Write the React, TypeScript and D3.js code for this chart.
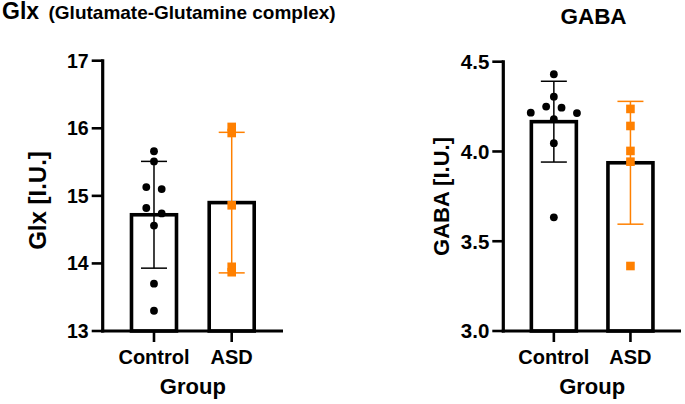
import React from "react";
import * as d3 from "d3";

const groups = ["Control", "ASD"];

const glxControl = [15.66, 15.51, 15.13, 15.1, 14.82, 14.74, 14.56, 13.7, 13.3];
const glxASD = [16.02, 15.93, 14.86, 13.95, 13.87];
const glxMeans = [14.72, 14.9];
const glxSDs = [0.79, 1.04];
const glxTicks = [13, 14, 15, 16, 17];

const gabaControl = [4.43, 4.305, 4.25, 4.244, 4.216, 4.214, 4.18, 4.046, 3.633];
const gabaASD = [4.237, 4.142, 4.003, 3.943, 3.362];
const gabaMeans = [4.166, 3.937];
const gabaSDs = [0.225, 0.342];
const gabaTicks = [3.0, 3.5, 4.0, 4.5];

const FONT = "'Liberation Sans', Arial, Helvetica, sans-serif";
const ORANGE = "#FF8000";

type PanelProps = {
  axisX: number;
  axisEnd: number;
  yTop: number;
  yBottom: number;
  domain: [number, number];
  ticks: number[];
  tickFmt: (v: number) => string;
  values: number[][];
  means: number[];
  sds: number[];
  yLabel: string;
  yLabelX: number;
  yLabelY: number;
  yLabelSize: number;
  tickFont: number;
};

function swarm(vals: number[], y: d3.ScaleLinear<number, number>, slot: number, tol: number) {
  const idx = vals.map((v, i) => i).sort((a, b) => vals[b] - vals[a]);
  const offs = new Array(vals.length).fill(0);
  const bins: number[][] = [];
  for (const i of idx) {
    const last = bins[bins.length - 1];
    if (last && Math.abs(y(vals[i]) - y(vals[last[0]])) < tol) last.push(i);
    else bins.push([i]);
  }
  for (const b of bins) {
    const n = b.length;
    const slots: number[] = [];
    if (n % 2 === 1) {
      slots.push(0);
      for (let k = 1; slots.length < n; k++) { slots.push(-k); if (slots.length < n) slots.push(k); }
    } else {
      for (let k = 0; slots.length < n; k++) { slots.push(-(k + 0.5)); slots.push(k + 0.5); }
    }
    b.forEach((i, j) => (offs[i] = slots[j] * slot));
  }
  return offs;
}

function Panel(p: PanelProps) {
  const y = d3.scaleLinear().domain(p.domain).range([p.yBottom, p.yTop]);
  const x = d3.scalePoint<string>().domain(groups).range([p.axisX, p.axisEnd]).padding(0.66);
  const barHalf = 22.5;
  const capHalf = 13;
  const colors = ["#000", ORANGE];
  const offs = swarm(p.values[0], y, 15.4, 8);
  return (
    <g fontFamily={FONT} fontWeight="bold">
      {groups.map((g, i) => (
        <rect key={"b" + g} x={x(g)! - barHalf} y={y(p.means[i])} width={barHalf * 2}
          height={p.yBottom - y(p.means[i])} fill="#fff" stroke="#000" strokeWidth={3.6} />
      ))}
      {groups.map((g, i) => {
        const cx = x(g)!;
        const t = y(p.means[i] + p.sds[i]);
        const b = y(p.means[i] - p.sds[i]);
        return (
          <g key={"e" + g} stroke={colors[i]} strokeWidth={1.5}>
            <line x1={cx} x2={cx} y1={t} y2={b} />
            <line x1={cx - capHalf} x2={cx + capHalf} y1={t} y2={t} />
            <line x1={cx - capHalf} x2={cx + capHalf} y1={b} y2={b} />
          </g>
        );
      })}
      {p.values[0].map((v, j) => (
        <circle key={"c" + j} cx={x(groups[0])! + offs[j]} cy={y(v)} r={3.9} fill="#000" />
      ))}
      {p.values[1].map((v, j) => (
        <rect key={"s" + j} x={x(groups[1])! - 4.3} y={y(v) - 4.3} width={8.6} height={8.6} fill={ORANGE} />
      ))}
      <line x1={p.axisX} x2={p.axisX} y1={p.yTop - 1.5} y2={p.yBottom + 1.5} stroke="#000" strokeWidth={3.2} />
      <line x1={p.axisX - 1.5} x2={p.axisEnd} y1={p.yBottom} y2={p.yBottom} stroke="#000" strokeWidth={3.2} />
      {p.ticks.map((t) => (
        <g key={"t" + t}>
          <line x1={p.axisX - 11} x2={p.axisX} y1={y(t)} y2={y(t)} stroke="#000" strokeWidth={2.6} />
          <text x={p.axisX - 14} y={y(t)} dy="0.36em" textAnchor="end" fontSize={p.tickFont}>{p.tickFmt(t)}</text>
        </g>
      ))}
      {groups.map((g) => (
        <g key={"x" + g}>
          <line x1={x(g)!} x2={x(g)!} y1={p.yBottom} y2={p.yBottom + 11} stroke="#000" strokeWidth={2.6} />
          <text x={x(g)!} y={363.5} textAnchor="middle" fontSize={20}>{g}</text>
        </g>
      ))}
      <text x={(x(groups[0])! + x(groups[1])!) / 2} y={394} textAnchor="middle" fontSize={22}>Group</text>
      <text transform={`translate(${p.yLabelX},${p.yLabelY}) rotate(-90)`} textAnchor="middle" fontSize={p.yLabelSize}>
        {p.yLabel}
      </text>
    </g>
  );
}

export default function App() {
  return (
    <svg width={685} height={404} style={{ position: "absolute", left: 0, top: 0, background: "#fff" }}>
      <rect width={685} height={404} fill="#fff" />
      <text x={2} y={18.5} fontFamily={FONT} fontWeight="bold" fontSize={23}>Glx</text>
      <text x={48.5} y={18.5} fontFamily={FONT} fontWeight="bold" fontSize={19}>(Glutamate-Glutamine complex)</text>
      <text x={593.5} y={23.5} fontFamily={FONT} fontWeight="bold" fontSize={22.5} textAnchor="middle">GABA</text>
      <Panel axisX={102.7} axisEnd={283} yTop={60.7} yBottom={331} domain={[13, 17]} ticks={glxTicks}
        tickFmt={(v) => String(v)} values={[glxControl, glxASD]} means={glxMeans} sds={glxSDs}
        yLabel="Glx [I.U.]" yLabelX={45.5} yLabelY={200.5} yLabelSize={24} tickFont={19.5} />
      <Panel axisX={503.3} axisEnd={681} yTop={61.7} yBottom={331} domain={[3, 4.5]} ticks={gabaTicks}
        tickFmt={(v) => v.toFixed(1)} values={[gabaControl, gabaASD]} means={gabaMeans} sds={gabaSDs}
        yLabel="GABA [I.U.]" yLabelX={448.5} yLabelY={196.5} yLabelSize={22} tickFont={20.5} />
    </svg>
  );
}
